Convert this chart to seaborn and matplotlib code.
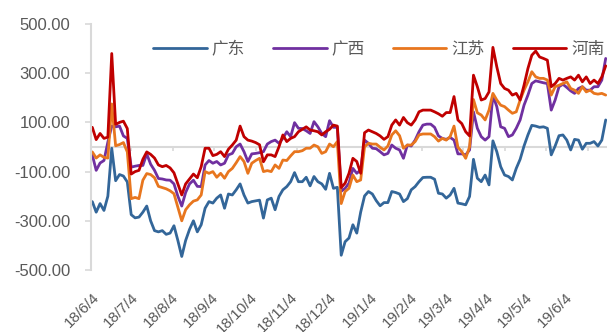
import numpy as np
import pandas as pd
import matplotlib
matplotlib.use("Agg")
import matplotlib.pyplot as plt
import matplotlib.dates as mdates
import seaborn as sns

# 3-day sampling of the price spread series
dates = pd.date_range("2018-06-04", periods=133, freq="3D")

guangdong = [
    -222, -265, -230, -258, -200, -5, -137, -112, -118, -142,
    -275, -288, -285, -265, -240, -300, -340, -345, -340, -355,
    -350, -320, -380, -445, -380, -335, -300, -345, -316, -249,
    -222, -228, -208, -195, -249, -191, -195, -174, -150, -195,
    -228, -222, -219, -216, -289, -215, -208, -255, -201, -174,
    -161, -141, -104, -141, -141, -123, -158, -120, -141, -150,
    -172, -107, -168, -164, -440, -385, -370, -316, -350, -265,
    -199, -181, -191, -218, -239, -226, -226, -181, -185, -191,
    -222, -210, -174, -161, -141, -124, -123, -123, -131, -188,
    -191, -208, -195, -168, -228, -231, -235, -201, -50, -127,
    -141, -114, -154, 25, -19, -80, -114, -120, -134, -87,
    -50, 4, 49, 88, 85, 80, 82, 76, -32, 4,
    46, 49, 28, -12, 31, 28, -9, 15, 15, 22,
    4, 28, 110,
]
guangxi = [
    -32, -95, -65, -55, 20, 85, 82, 85, 45, 35,
    -82, -78, -75, -75, -28, -70, -95, -128, -130, -134,
    -135, -150, -200, -240, -185, -150, -135, -160, -161, -73,
    -55, -66, -59, -73, -66, -32, -26, 1, 12, -19,
    -59, -28, -26, -23, -19, 12, 22, 28, 15, 35,
    62, 42, 99, 76, 75, 66, 55, 103, 82, 55,
    42, 107, 80, 80, -180, -168, -147, -87, -107, -93,
    28, 15, -5, -7, -19, -32, -26, 8, -5, -12,
    -46, 8, 4, 28, 62, 89, 93, 93, 80, 45,
    35, 31, 39, 28, -28, -28, -32, -12, 143, 76,
    42, 28, 42, 210, 164, 82, 76, 42, 49, 76,
    110, 170, 211, 258, 269, 265, 261, 258, 150, 191,
    245, 255, 242, 228, 218, 238, 245, 231, 231, 245,
    245, 272, 360,
]
jiangsu = [
    -20, -45, -32, -42, -45, 175, 5, 10, 18, -20,
    -210, -205, -210, -135, -108, -112, -125, -160, -165, -170,
    -178, -190, -245, -300, -255, -235, -220, -215, -195, -100,
    -107, -100, -123, -107, -127, -100, -87, -64, -39, -59,
    -107, -66, -55, -46, -100, -96, -100, -73, -87, -53,
    -55, -36, -19, -19, -15, -5, -5, 8, 1, -26,
    -19, 12, 1, 22, -230, -181, -168, -114, -141, -134,
    1, 15, 12, 12, -1, -12, 4, 49, 66, 46,
    -5, 8, 8, 22, 49, 53, 53, 53, 42, 24,
    35, 28, 42, 85, -1, -19, -46, 1, 193, 139,
    130, 110, 150, 218, 191, 170, 164, 150, 137, 143,
    191, 231, 265, 306, 285, 279, 279, 272, 211, 245,
    251, 258, 265, 238, 231, 218, 245, 224, 231, 218,
    215, 218, 211,
]
henan = [
    80, 30, 55, 35, 40, 380, 92, 100, 105, 75,
    -110, -100, -95, -50, -20, -30, -45, -73, -80, -75,
    -85, -105, -150, -195, -150, -130, -110, -125, -80, -5,
    -5, -35, -30, -19, -39, -9, 8, 28, 85, 42,
    28, 24, 18, 9, -60, -32, -32, -39, 1, 49,
    22, 35, 42, 62, 72, 82, 69, 66, 62, 49,
    62, 72, 89, 85, -165, -147, -107, -46, -59, -107,
    58, 69, 62, 55, 45, 31, 42, 89, 110, 89,
    120, 99, 89, 110, 143, 150, 150, 150, 143, 135,
    125, 140, 140, 205, 110, 95, 62, 45, 292, 245,
    191, 197, 224, 405, 326, 258, 238, 231, 211, 218,
    191, 251, 319, 373, 390, 366, 360, 353, 245, 258,
    279, 272, 279, 285, 272, 292, 265, 285, 258, 272,
    258, 285, 330,
]

provinces = ["广东", "广西", "江苏", "河南"]
colors = ["#336699", "#7030A0", "#E8761E", "#C00000"]

y_ticks = [-500, -300, -100, 100, 300, 500]
label_dates = pd.date_range("2018-06-01", "2019-06-01", freq="MS") + pd.Timedelta(days=3)
zero_ticks = pd.date_range("2018-07-04", periods=12, freq="32D")

df = pd.DataFrame({"date": dates, "广东": guangdong, "广西": guangxi,
                   "江苏": jiangsu, "河南": henan})
long = df.melt(id_vars="date", var_name="province", value_name="spread")

sns.set_theme(style="white")
plt.rcParams["font.family"] = ["Liberation Sans", "Noto Sans CJK SC", "DejaVu Sans"]

fig = plt.figure(figsize=(6.07, 3.32), dpi=100)
ax = fig.add_axes([91 / 607, 62 / 332, 516 / 607, 246 / 332])

sns.lineplot(data=long, x="date", y="spread", hue="province",
             hue_order=provinces, palette=dict(zip(provinces, colors)),
             linewidth=2.0, ax=ax)

ax.set_xlim(pd.Timestamp("2018-06-03"), pd.Timestamp("2019-07-06"))
ax.set_ylim(-500, 500)
ax.set_xlabel("")
ax.set_ylabel("")

gray_line = "#D9D9D9"
text_gray = "#595959"

ax.set_yticks(y_ticks)
ax.set_yticklabels([f"{v:.2f}" for v in y_ticks])
ax.tick_params(axis="y", left=True, length=4.3, width=1.2, color=gray_line,
               pad=10.8, labelsize=12, labelcolor=text_gray)

ax.set_xticks(label_dates)
ax.set_xticklabels([f"{d.year % 100}/{d.month}/{d.day}" for d in label_dates],
                   rotation=45, ha="right", rotation_mode="anchor")
ax.tick_params(axis="x", bottom=True, length=0, pad=14.5, labelsize=11,
               labelcolor=text_gray)

for side in ["top", "right", "bottom"]:
    ax.spines[side].set_visible(False)
ax.spines["left"].set_color(gray_line)
ax.spines["left"].set_linewidth(1.5)

# category axis crossing at zero
zero_axis = ax.secondary_xaxis(0, transform=ax.transData)
zero_axis.set_alignment("bottom")
zero_axis.set_xticks(mdates.date2num(zero_ticks))
zero_axis.tick_params(axis="x", length=3.2, width=1.2, color=gray_line,
                      labelbottom=False, labeltop=False)
zero_axis.spines["bottom"].set_color(gray_line)
zero_axis.spines["bottom"].set_linewidth(1.5)
zero_axis.set_zorder(0)

handles, labels = ax.get_legend_handles_labels()
ax.legend(handles, labels, ncol=4, loc="center", bbox_to_anchor=(0.558, 0.898),
          frameon=False, fontsize=12, labelcolor=text_gray,
          handlelength=3.2, handletextpad=0.3, columnspacing=1.7)

fig.savefig("out.png", dpi=100)
